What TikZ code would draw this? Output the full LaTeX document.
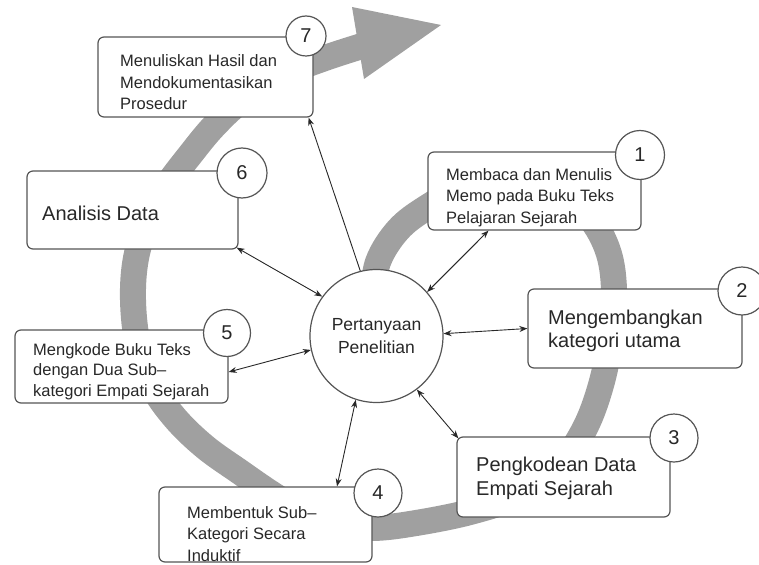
\documentclass[tikz,border=0pt]{standalone}
\usepackage{fontspec}
\setmainfont{Liberation Sans}
\usetikzlibrary{arrows.meta,calc}
\definecolor{bandgray}{RGB}{160,160,160}
\definecolor{edge}{RGB}{85,85,85}
\definecolor{ink}{RGB}{40,40,40}
\begin{document}
\begin{tikzpicture}[x=1pt,y=-1pt,
  box/.style={draw=edge,line width=1.2pt,fill=white,rounded corners=6pt,inner sep=0pt},
  num/.style={circle,draw=edge,line width=1.2pt,fill=white,inner sep=0pt,font=\fontsize{20}{20}\selectfont,text=ink},
  small/.style={anchor=base west,align=left,inner sep=0pt,font=\fontsize{16.5}{21.5}\selectfont,text=ink},
  big/.style={anchor=base west,align=left,inner sep=0pt,font=\fontsize{20}{23}\selectfont,text=ink},
  link/.style={draw=ink,line width=0.9pt,{Stealth[length=8pt,width=6pt]}-{Stealth[length=8pt,width=6pt]}},
  onelink/.style={draw=ink,line width=0.9pt,-{Stealth[length=8pt,width=6pt]}}
  ]
\useasboundingbox (0,0) rectangle (759,564);
% spiral band
\draw[bandgray,line width=26pt] plot[smooth,tension=0.6] coordinates {
 (372,300) (378,262) (398,230) (426,208) (465,187) (505,178) (548,186) (585,212)
 (607,248) (614,290) (610,340) (601,385) (585,428) (560,465) (522,494) (470,512)
 (410,524) (370,528) (335,524) (302,512) (272,494) (240,472) (205,447) (175,418)
 (152,385) (138,345) (133,300) (136,258) (148,220) (166,187) (190,155) (215,125)
 (245,98) (290,72) (325,58) (362,46)};
\fill[bandgray] (352,7) -- (441,25) -- (364,79) -- cycle;
% boxes
\node[box,minimum width=215pt,minimum height=80pt] (b7) at (205.5,77) {};
\node[box,minimum width=213pt,minimum height=78pt] (b1) at (534.5,191) {};
\node[box,minimum width=214pt,minimum height=79pt] (b2) at (635,328.5) {};
\node[box,minimum width=213pt,minimum height=80pt] (b3) at (563.5,477) {};
\node[box,minimum width=213pt,minimum height=75pt] (b4) at (265.5,524.5) {};
\node[box,minimum width=213pt,minimum height=73pt] (b5) at (121.5,366.5) {};
\node[box,minimum width=211pt,minimum height=78pt] (b6) at (132.5,210) {};
% texts (anchor = baseline of last line)
\node[small] (t7) at (120,110) {Menuliskan Hasil dan\\Mendokumentasikan\\Prosedur};
\node[small] (t1) at (446,223) {Membaca dan Menulis\\Memo pada Buku Teks\\Pelajaran Sejarah};
\node[big] (t2) at (548,347) {Mengembangkan\\kategori utama};
\node[big,font=\fontsize{20}{24}\selectfont] (t3) at (476,495) {Pengkodean Data\\Empati Sejarah};
\node[small] (t4) at (187,561) {Membentuk Sub--\\Kategori Secara\\Induktif};
\node[small,font=\fontsize{16.5}{20.5}\selectfont] (t5) at (33,396) {Mengkode Buku Teks\\dengan Dua Sub--\\kategori Empati Sejarah};
\node[big] (t6) at (42,220) {Analisis Data};
% number circles
\node[num,minimum size=40pt] (c7) at (306,36) {7};
\node[num,minimum size=49pt] (c1) at (640,155) {1};
\node[num,minimum size=48pt] (c2) at (742,291) {2};
\node[num,minimum size=48pt] (c3) at (674,438) {3};
\node[num,minimum size=48pt] (c4) at (378,493) {4};
\node[num,minimum size=47pt] (c5) at (227,333) {5};
\node[num,minimum size=50pt] (c6) at (242,173) {6};
% central circle
\node[circle,draw=edge,line width=1.2pt,fill=white,minimum size=133pt,inner sep=0pt,
  align=center,font=\fontsize{17.5}{23}\selectfont,text=ink] (pq) at (376.5,336) {Pertanyaan\\Penelitian};
% connectors
\draw[onelink] (pq.104) -- ([xshift=-5pt]b7.south east);
\draw[link] ([xshift=-2pt,yshift=2pt]b6.south east) -- (pq.144);
\draw[link] ([yshift=-5.5pt]b5.east) -- (pq.192);
\draw[link] ([xshift=71.5pt]b4.north) -- (pq.252);
\draw[link] (pq.307) -- ([xshift=2pt,yshift=-2pt]b3.north west);
\draw[link] (pq.2) -- (b2.west);
\draw[link] (pq.41.5) -- ([xshift=-46pt]b1.south);
\end{tikzpicture}
\end{document}
